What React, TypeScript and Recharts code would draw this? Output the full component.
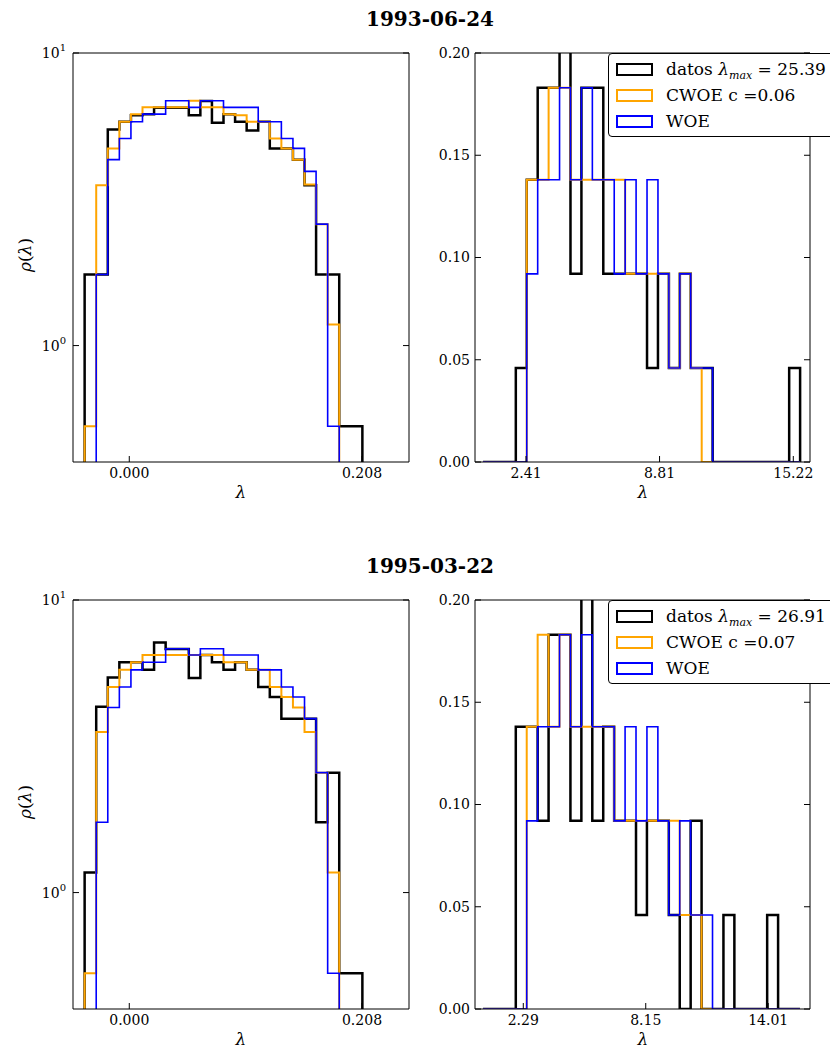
import React from "react";
import { LineChart, Line, XAxis, YAxis } from "recharts";

const FONT = "'DejaVu Serif', serif";
const BLACK = "#000000";
const ORANGE = "#FFA500";
const BLUE = "#0000FF";

// left panels: log-scale density, 24 common bins
const LEFT_BIN_START = -0.0399;
const LEFT_BIN_WIDTH = 0.010343;
const LEFT_X_TICKS = [0, 0.208];
const LEFT_Y_TICKS = [1, 10];

const TL_DATOS = [1.75, 1.75, 5.48, 5.82, 6.13, 6.18, 6.5, 6.5, 6.5, 6.13, 6.85, 5.77, 6.18, 5.82, 5.43, 5.82, 4.72, 4.72, 4.32, 3.53, 1.75, 1.75, 0.53, 0.53];
const TL_CWOE = [0.53, 3.53, 4.72, 5.82, 6.18, 6.52, 6.52, 6.52, 6.52, 6.87, 6.52, 6.52, 6.18, 6.13, 5.82, 5.82, 5.1, 4.72, 4.32, 3.55, 2.6, 1.18, 0, 0];
const TL_WOE = [0, 1.75, 4.32, 5.1, 5.82, 6.18, 6.18, 6.87, 6.87, 6.52, 6.87, 6.87, 6.52, 6.52, 6.52, 5.82, 5.82, 5.1, 4.72, 3.94, 2.6, 0.53, 0, 0];

const BL_DATOS = [1.17, 4.32, 5.43, 6.13, 6.13, 5.77, 7.16, 6.8, 6.8, 5.41, 6.49, 6.13, 5.77, 6.13, 5.77, 5.04, 4.66, 3.93, 3.93, 3.93, 1.74, 2.57, 0.53, 0.53];
const BL_CWOE = [0.53, 3.54, 5.04, 5.77, 6.13, 6.49, 6.49, 6.49, 6.49, 6.49, 6.49, 6.49, 6.13, 6.13, 5.77, 5.77, 5.04, 4.66, 4.29, 3.54, 2.57, 1.17, 0, 0];
const BL_WOE = [0, 1.74, 4.29, 5.04, 5.77, 6.13, 6.13, 6.81, 6.81, 6.49, 6.81, 6.81, 6.49, 6.49, 6.49, 5.77, 5.77, 5.04, 4.66, 3.93, 2.57, 0.53, 0, 0];

// right panels: linear density, 29 bins
const TR_BIN_START = 0.35;
const TR_BIN_WIDTH = 0.524;
const TR_X_TICKS = [2.41, 8.81, 15.22];
const BR_BIN_START = 0.362;
const BR_BIN_WIDTH = 0.523;
const BR_X_TICKS = [2.29, 8.15, 14.01];
const RIGHT_Y_TICKS = [0, 0.05, 0.1, 0.15, 0.2];

const TR_DATOS = [0, 0, 0, 0.046, 0.138, 0.183, 0.183, 0.229, 0.092, 0.183, 0.183, 0.092, 0.092, 0.092, 0.092, 0.046, 0.092, 0.046, 0.092, 0.046, 0.046, 0, 0, 0, 0, 0, 0, 0, 0.046];
const TR_CWOE = [0, 0, 0, 0, 0.138, 0.138, 0.183, 0.183, 0.138, 0.138, 0.138, 0.138, 0.138, 0.092, 0.092, 0.092, 0.092, 0.046, 0.092, 0.046, 0, 0, 0, 0, 0, 0, 0, 0, 0];
const TR_WOE = [0, 0, 0, 0, 0.092, 0.138, 0.138, 0.183, 0.138, 0.183, 0.138, 0.138, 0.092, 0.138, 0.092, 0.138, 0.092, 0.046, 0.092, 0.046, 0.046, 0, 0, 0, 0, 0, 0, 0, 0];

const BR_DATOS = [0, 0, 0, 0.138, 0.138, 0.092, 0.183, 0.183, 0.092, 0.229, 0.092, 0.138, 0.092, 0.092, 0.046, 0.092, 0.092, 0.046, 0, 0.092, 0, 0, 0.046, 0, 0, 0, 0.046, 0, 0];
const BR_CWOE = [0, 0, 0, 0, 0.138, 0.183, 0.138, 0.183, 0.138, 0.138, 0.138, 0.138, 0.092, 0.092, 0.092, 0.092, 0.092, 0.092, 0.046, 0.046, 0, 0, 0, 0, 0, 0, 0, 0, 0];
const BR_WOE = [0, 0, 0, 0, 0.092, 0.138, 0.138, 0.183, 0.138, 0.183, 0.138, 0.138, 0.092, 0.138, 0.092, 0.138, 0.092, 0.046, 0.092, 0.046, 0.046, 0, 0, 0, 0, 0, 0, 0, 0];

const TITLES = ["1993-06-24", "1995-03-22"];
const LAMBDA_MAX = ["25.39", "26.91"];
const CWOE_C = ["0.06", "0.07"];

// below the log axis floor, gets clipped
const LOG_FLOOR = 0.1;

// matplotlib histtype="step" outline
function stepPoints(start: number, width: number, values: number[], base: number) {
  const pts = [{ x: start, y: base }];
  values.forEach((v, i) => pts.push({ x: start + i * width, y: v > 0 ? v : base }));
  pts.push({ x: start + values.length * width, y: base });
  return pts;
}

const tickStyle = { fontFamily: FONT, fontSize: 14, fill: "#000" };

const LogTick = (props: any) => {
  const { x, y, payload } = props;
  const exp = Math.round(Math.log10(payload.value));
  return (
    <text x={x} y={y} dy={5} textAnchor="end" fontFamily={FONT} fontSize={14} fill="#000">
      10
      <tspan dy={-7} fontSize={10}>
        {exp}
      </tspan>
    </text>
  );
};

type Series = { points: { x: number; y: number }[]; color: string; width: number };

function Panel(props: {
  left: number;
  top: number;
  width: number;
  yAxisWidth: number;
  rightMargin: number;
  log: boolean;
  xDomain: number[];
  xTicks: number[];
  xDigits: number;
  yDomain: number[];
  yTicks: number[];
  series: Series[];
}) {
  const { left, top, width, yAxisWidth, rightMargin, log, xDomain, xTicks, xDigits, yDomain, yTicks, series } = props;
  const axisLine = { stroke: "#000", strokeWidth: 1 };
  return (
    <div style={{ position: "absolute", left, top }}>
      <LineChart width={width} height={500} margin={{ top: 52, right: rightMargin - 1, left: 0, bottom: 0 }}>
        <XAxis
          xAxisId="b"
          dataKey="x"
          type="number"
          domain={xDomain}
          ticks={xTicks}
          interval={0}
          allowDataOverflow
          height={38}
          axisLine={axisLine}
          tickLine={axisLine}
          tickSize={-6}
          tickMargin={12}
          tick={tickStyle}
          tickFormatter={(v: number) => v.toFixed(xDigits)}
        />
        <XAxis
          xAxisId="t"
          orientation="top"
          type="number"
          domain={xDomain}
          ticks={xTicks}
          interval={0}
          allowDataOverflow
          height={1}
          axisLine={axisLine}
          tickLine={axisLine}
          tickSize={-6}
          tickFormatter={() => ""}
        />
        <YAxis
          yAxisId="l"
          type="number"
          scale={log ? "log" : "linear"}
          domain={yDomain}
          ticks={yTicks}
          interval={0}
          allowDataOverflow
          width={yAxisWidth}
          axisLine={axisLine}
          tickLine={axisLine}
          tickSize={-6}
          tickMargin={log ? 13 : 11}
          tick={log ? LogTick : tickStyle}
          tickFormatter={(v: number) => v.toFixed(2)}
        />
        <YAxis
          yAxisId="r"
          orientation="right"
          type="number"
          scale={log ? "log" : "linear"}
          domain={yDomain}
          ticks={yTicks}
          interval={0}
          allowDataOverflow
          width={1}
          axisLine={axisLine}
          tickLine={axisLine}
          tickSize={-6}
          tickFormatter={() => ""}
        />
        {series.map((s, i) => (
          <Line
            key={i}
            xAxisId="b"
            yAxisId="l"
            data={s.points}
            dataKey="y"
            type="stepAfter"
            stroke={s.color}
            strokeWidth={s.width}
            dot={false}
            activeDot={false}
            isAnimationActive={false}
          />
        ))}
      </LineChart>
    </div>
  );
}

const textBase: React.CSSProperties = { position: "absolute", fontFamily: FONT, color: "#000", whiteSpace: "nowrap" };

function Legend({ top, idx }: { top: number; idx: number }) {
  const rows = [
    {
      color: BLACK,
      w: 2.5,
      label: (
        <span>
          datos <i>λ</i>
          <i style={{ fontSize: 11, position: "relative", top: 4 }}>max</i> = {LAMBDA_MAX[idx]}
        </span>
      ),
    },
    { color: ORANGE, w: 2, label: <span>CWOE c ={CWOE_C[idx]}</span> },
    { color: BLUE, w: 2, label: <span>WOE</span> },
  ];
  return (
    <div
      style={{
        position: "absolute",
        left: 608,
        top,
        width: 240,
        height: 84,
        border: "1px solid #000",
        borderRadius: 4,
        background: "#fff",
        boxSizing: "border-box",
      }}
    >
      {rows.map((r, i) => (
        <React.Fragment key={i}>
          <div
            style={{
              position: "absolute",
              left: 7,
              top: 9 + i * 26,
              width: 37,
              height: 13,
              border: `${r.w}px solid ${r.color}`,
              boxSizing: "border-box",
            }}
          />
          <div style={{ ...textBase, left: 57, top: 3 + i * 26, fontSize: 17, lineHeight: "24px" }}>{r.label}</div>
        </React.Fragment>
      ))}
    </div>
  );
}

export default function App() {
  const rows = [
    { dy: 0, left: [TL_DATOS, TL_CWOE, TL_WOE], right: [TR_DATOS, TR_CWOE, TR_WOE], rs: TR_BIN_START, rw: TR_BIN_WIDTH, rt: TR_X_TICKS, rd: [-0.034, 16.02] },
    { dy: 547, left: [BL_DATOS, BL_CWOE, BL_WOE], right: [BR_DATOS, BR_CWOE, BR_WOE], rs: BR_BIN_START, rw: BR_BIN_WIDTH, rt: BR_X_TICKS, rd: [-0.021, 16.01] },
  ];
  const colors = [BLACK, ORANGE, BLUE];
  const widths = [2.5, 2, 1.6];
  return (
    <div style={{ position: "absolute", left: 0, top: 0, width: 830, height: 1054, overflow: "hidden", background: "#fff" }}>
      {rows.map((row, r) => (
        <React.Fragment key={r}>
          <div style={{ ...textBase, left: 330, width: 200, textAlign: "center", top: row.dy + 7, fontSize: 20, fontWeight: "bold", lineHeight: "24px" }}>
            {TITLES[r]}
          </div>
          <Panel
            left={0}
            top={row.dy}
            width={420}
            yAxisWidth={73}
            rightMargin={11}
            log
            xDomain={[-0.0503, 0.25]}
            xTicks={LEFT_X_TICKS}
            xDigits={3}
            yDomain={[0.4, 10]}
            yTicks={LEFT_Y_TICKS}
            series={row.left.map((vals, i) => ({
              points: stepPoints(LEFT_BIN_START, LEFT_BIN_WIDTH, vals, LOG_FLOOR),
              color: colors[i],
              width: widths[i],
            }))}
          />
          <Panel
            left={420}
            top={row.dy}
            width={410}
            yAxisWidth={55}
            rightMargin={20}
            log={false}
            xDomain={row.rd}
            xTicks={row.rt}
            xDigits={2}
            yDomain={[0, 0.2]}
            yTicks={RIGHT_Y_TICKS}
            series={row.right.map((vals, i) => ({
              points: stepPoints(row.rs, row.rw, vals, 0),
              color: colors[i],
              width: widths[i],
            }))}
          />
          <div
            style={{
              ...textBase,
              left: 5,
              top: row.dy + 244,
              width: 40,
              textAlign: "center",
              fontSize: 17,
              lineHeight: "22px",
              transform: "rotate(-90deg)",
            }}
          >
            <i>ρ</i>(<i>λ</i>)
          </div>
          <div style={{ ...textBase, left: 231, width: 20, textAlign: "center", top: row.dy + 481, fontSize: 17, lineHeight: "22px" }}>
            <i>λ</i>
          </div>
          <div style={{ ...textBase, left: 633, width: 20, textAlign: "center", top: row.dy + 481, fontSize: 17, lineHeight: "22px" }}>
            <i>λ</i>
          </div>
          <Legend top={row.dy + 53} idx={r} />
        </React.Fragment>
      ))}
    </div>
  );
}
